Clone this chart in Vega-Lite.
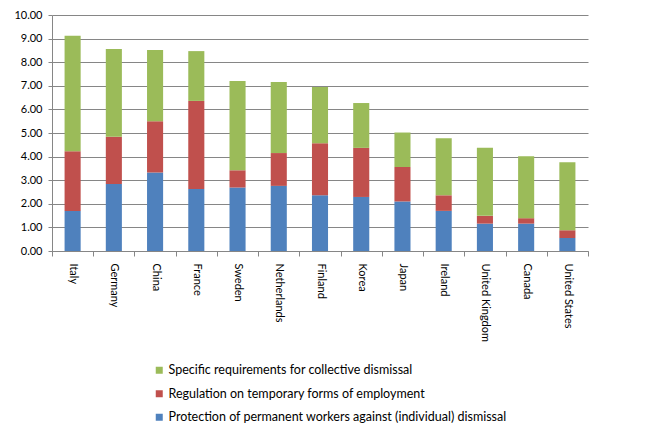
{
  "$schema": "https://vega.github.io/schema/vega-lite/v6.json",
  "width": 536,
  "height": 236,
  "autosize": {"type": "none"},
  "padding": {"left": 52, "top": 15, "right": 60, "bottom": 184},
  "background": "white",
  "config": {
    "font": "Lato",
    "view": {"stroke": null},
    "axis": {"labelFont": "Lato", "labelColor": "#000000", "labelFontSize": 11}
  },
  "data": {
    "values": [
      {"country": "Italy", "component": "Protection of permanent workers against (individual) dismissal", "value": 1.70},
      {"country": "Italy", "component": "Regulation on temporary forms of employment", "value": 2.53},
      {"country": "Italy", "component": "Specific requirements for collective dismissal", "value": 4.89},
      {"country": "Germany", "component": "Protection of permanent workers against (individual) dismissal", "value": 2.84},
      {"country": "Germany", "component": "Regulation on temporary forms of employment", "value": 2.00},
      {"country": "Germany", "component": "Specific requirements for collective dismissal", "value": 3.72},
      {"country": "China", "component": "Protection of permanent workers against (individual) dismissal", "value": 3.33},
      {"country": "China", "component": "Regulation on temporary forms of employment", "value": 2.17},
      {"country": "China", "component": "Specific requirements for collective dismissal", "value": 3.02},
      {"country": "France", "component": "Protection of permanent workers against (individual) dismissal", "value": 2.63},
      {"country": "France", "component": "Regulation on temporary forms of employment", "value": 3.73},
      {"country": "France", "component": "Specific requirements for collective dismissal", "value": 2.11},
      {"country": "Sweden", "component": "Protection of permanent workers against (individual) dismissal", "value": 2.69},
      {"country": "Sweden", "component": "Regulation on temporary forms of employment", "value": 0.73},
      {"country": "Sweden", "component": "Specific requirements for collective dismissal", "value": 3.78},
      {"country": "Netherlands", "component": "Protection of permanent workers against (individual) dismissal", "value": 2.76},
      {"country": "Netherlands", "component": "Regulation on temporary forms of employment", "value": 1.39},
      {"country": "Netherlands", "component": "Specific requirements for collective dismissal", "value": 3.01},
      {"country": "Finland", "component": "Protection of permanent workers against (individual) dismissal", "value": 2.36},
      {"country": "Finland", "component": "Regulation on temporary forms of employment", "value": 2.21},
      {"country": "Finland", "component": "Specific requirements for collective dismissal", "value": 2.38},
      {"country": "Korea", "component": "Protection of permanent workers against (individual) dismissal", "value": 2.29},
      {"country": "Korea", "component": "Regulation on temporary forms of employment", "value": 2.08},
      {"country": "Korea", "component": "Specific requirements for collective dismissal", "value": 1.90},
      {"country": "Japan", "component": "Protection of permanent workers against (individual) dismissal", "value": 2.10},
      {"country": "Japan", "component": "Regulation on temporary forms of employment", "value": 1.46},
      {"country": "Japan", "component": "Specific requirements for collective dismissal", "value": 1.46},
      {"country": "Ireland", "component": "Protection of permanent workers against (individual) dismissal", "value": 1.70},
      {"country": "Ireland", "component": "Regulation on temporary forms of employment", "value": 0.66},
      {"country": "Ireland", "component": "Specific requirements for collective dismissal", "value": 2.42},
      {"country": "United Kingdom", "component": "Protection of permanent workers against (individual) dismissal", "value": 1.16},
      {"country": "United Kingdom", "component": "Regulation on temporary forms of employment", "value": 0.33},
      {"country": "United Kingdom", "component": "Specific requirements for collective dismissal", "value": 2.88},
      {"country": "Canada", "component": "Protection of permanent workers against (individual) dismissal", "value": 1.16},
      {"country": "Canada", "component": "Regulation on temporary forms of employment", "value": 0.23},
      {"country": "Canada", "component": "Specific requirements for collective dismissal", "value": 2.63},
      {"country": "United States", "component": "Protection of permanent workers against (individual) dismissal", "value": 0.55},
      {"country": "United States", "component": "Regulation on temporary forms of employment", "value": 0.33},
      {"country": "United States", "component": "Specific requirements for collective dismissal", "value": 2.88}
    ]
  },
  "mark": {"type": "bar", "width": {"band": 0.39}},
  "encoding": {
    "x": {
      "field": "country",
      "type": "nominal",
      "sort": null,
      "scale": {"paddingInner": 0, "paddingOuter": 0},
      "axis": {
        "title": null,
        "labelAngle": 90,
        "labelPadding": 7,
        "tickBand": "extent",
        "tickSize": 5,
        "tickColor": "#868686",
        "domainColor": "#868686",
        "grid": false
      }
    },
    "y": {
      "field": "value",
      "type": "quantitative",
      "stack": "zero",
      "scale": {"domain": [0, 10], "nice": false},
      "axis": {
        "title": null,
        "values": [0, 1, 2, 3, 4, 5, 6, 7, 8, 9, 10],
        "format": ".2f",
        "tickSize": 4,
        "labelPadding": 6,
        "tickColor": "#868686",
        "domainColor": "#868686",
        "gridColor": "#868686",
        "grid": true
      }
    },
    "color": {
      "field": "component",
      "type": "nominal",
      "scale": {
        "domain": [
          "Specific requirements for collective dismissal",
          "Regulation on temporary forms of employment",
          "Protection of permanent workers against (individual) dismissal"
        ],
        "range": ["#9BBB59", "#C0504D", "#4F81BD"]
      },
      "legend": {
        "title": null,
        "orient": "none",
        "legendX": 101,
        "legendY": 349,
        "direction": "vertical",
        "symbolType": "square",
        "symbolSize": 49,
        "symbolStrokeWidth": 0,
        "labelFont": "Lato",
        "labelFontSize": 12.5,
        "labelColor": "#000000",
        "labelLimit": 400,
        "rowPadding": 10.5,
        "labelOffset": 3,
        "padding": 0
      }
    },
    "order": {"field": "component", "sort": "ascending"}
  }
}
